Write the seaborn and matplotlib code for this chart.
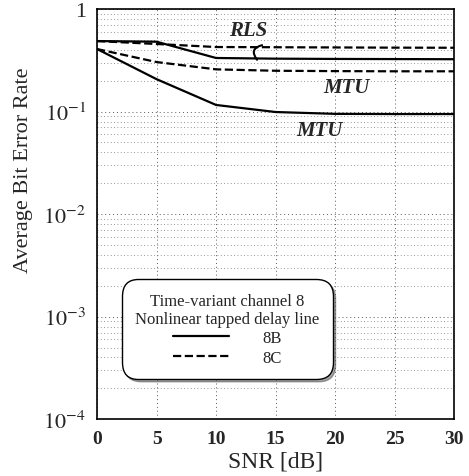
import matplotlib
matplotlib.use("Agg")
import matplotlib.pyplot as plt
import pandas as pd
import seaborn as sns
from matplotlib.ticker import FixedLocator, LogLocator, NullFormatter

# Dados
snr = [0, 5, 10, 15, 20, 25, 30]
ber_8b_rls = [0.487, 0.480, 0.333, 0.328, 0.326, 0.325, 0.324]
ber_8c_rls = [0.487, 0.456, 0.426, 0.424, 0.422, 0.420, 0.419]
ber_8b_mtu = [0.407, 0.207, 0.116, 0.099, 0.095, 0.0946, 0.0946]
ber_8c_mtu = [0.407, 0.304, 0.258, 0.250, 0.248, 0.247, 0.247]

y_ticks = [1, 1e-1, 1e-2, 1e-3, 1e-4]
y_labels = ["1", "$10^{-1}$", "$10^{-2}$", "$10^{-3}$", "$10^{-4}$"]
x_ticks = [0, 5, 10, 15, 20, 25, 30]

sns.set_theme(style="white")
plt.rcParams['font.family'] = ['Liberation Serif', 'DejaVu Serif']
plt.rcParams['mathtext.fontset'] = 'stix'

rows = []
for canal, algo, vals in [("8B", "RLS", ber_8b_rls), ("8C", "RLS", ber_8c_rls),
                          ("8B", "MTU", ber_8b_mtu), ("8C", "MTU", ber_8c_mtu)]:
    for s, v in zip(snr, vals):
        rows.append({"SNR": s, "BER": v, "Canal": canal, "Algo": algo})
df = pd.DataFrame(rows)
df["Curva"] = df["Canal"] + "_" + df["Algo"]

fig = plt.figure(figsize=(4.69, 4.77), dpi=100)
ax = fig.add_axes([0.207, 0.119, 0.761, 0.860])

estilos = {"8B": "-", "8C": "--"}
for curva, sub in df.groupby("Curva", sort=False):
    canal = sub["Canal"].iloc[0]
    sns.lineplot(data=sub, x="SNR", y="BER", ax=ax, color="black",
                 linewidth=1.6, linestyle=estilos[canal], dashes=False,
                 label=canal if sub["Algo"].iloc[0] == "RLS" else None)

ax.set_yscale("log")
ax.set_xlim(0, 30)
ax.set_ylim(1e-4, 1)
ax.set_xticks(x_ticks)
ax.set_xticklabels([str(t) for t in x_ticks], fontsize=14, fontweight="bold")
ax.yaxis.set_major_locator(FixedLocator(y_ticks))
ax.set_yticklabels(y_labels, fontsize=16)
ax.yaxis.set_minor_locator(LogLocator(base=10, subs=range(2, 10)))
ax.yaxis.set_minor_formatter(NullFormatter())
ax.tick_params(axis="both", which="both", direction="in", length=0, pad=8)

ax.grid(True, which="major", axis="both", color="0.35", linestyle=(0, (1, 3)), linewidth=0.7)
ax.grid(True, which="minor", axis="y", color="0.45", linestyle=(0, (1, 3)), linewidth=0.6)
for s in ax.spines.values():
    s.set_color("black")
    s.set_linewidth(1.2)

ax.set_xlabel("SNR [dB]", fontsize=17, labelpad=2)
ax.set_ylabel("Average Bit Error Rate", fontsize=16)
ax.yaxis.set_label_coords(-0.18, 0.61)

# Anotações
ax.text(12.7, 0.62, "RLS", fontsize=15, fontweight="bold", style="italic", ha="center", va="center")
ax.annotate("", xy=(13.6, 0.305), xytext=(14.1, 0.45),
            arrowprops=dict(arrowstyle="-", color="black", lw=1.5,
                            connectionstyle="arc3,rad=0.9"))
ax.text(21.0, 0.175, "MTU", fontsize=15, fontweight="bold", style="italic", ha="center", va="center")
ax.text(18.7, 0.066, "MTU", fontsize=15, fontweight="bold", style="italic", ha="center", va="center")

leg = ax.legend(title="Time-variant channel 8\nNonlinear tapped delay line",
                loc="lower left", bbox_to_anchor=(0.06, 0.09), fontsize=12,
                title_fontsize=12, frameon=True, fancybox=True, shadow=True,
                handlelength=3.4, handletextpad=2.0, borderpad=0.5,
                labelspacing=0.2, alignment="center")
leg.get_title().set_multialignment("center")
leg.get_frame().set_edgecolor("black")
leg.get_frame().set_linewidth(1.0)
leg.get_frame().set_boxstyle("round,pad=0.3,rounding_size=1.0")

fig.savefig("out.png", dpi=100)
